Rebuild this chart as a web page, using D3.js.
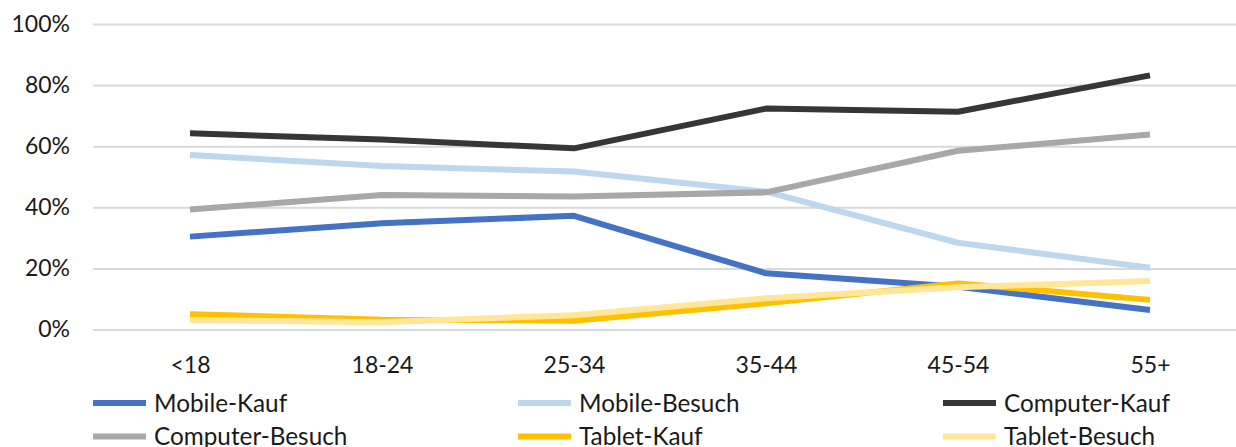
<!DOCTYPE html>
<html>
<head>
<meta charset="utf-8">
<script src="https://cdn.jsdelivr.net/npm/d3@7"></script>
<style>
  body { margin: 0; background: #fff; }
  svg { display: block; }
</style>
</head>
<body>
<svg id="chart" width="1236" height="447"></svg>
<script>
// Data
const ageGroups = ["<18", "18-24", "25-34", "35-44", "45-54", "55+"];
const seriesNames = ["Mobile-Kauf", "Mobile-Besuch", "Computer-Kauf", "Computer-Besuch", "Tablet-Kauf", "Tablet-Besuch"];
const mobileKauf = [0.304, 0.348, 0.372, 0.184, 0.140, 0.064];
const mobileBesuch = [0.571, 0.535, 0.517, 0.451, 0.284, 0.202];
const computerKauf = [0.642, 0.622, 0.593, 0.723, 0.713, 0.832];
const computerBesuch = [0.393, 0.440, 0.435, 0.449, 0.585, 0.638];
const tabletKauf = [0.050, 0.032, 0.029, 0.086, 0.151, 0.097];
const tabletBesuch = [0.031, 0.024, 0.047, 0.102, 0.138, 0.159];
const yTicks = [0, 0.2, 0.4, 0.6, 0.8, 1.0];

const seriesValues = [mobileKauf, mobileBesuch, computerKauf, computerBesuch, tabletKauf, tabletBesuch];
const colors = ["#4472c4", "#bdd7ee", "#363636", "#a9a7a7", "#ffc000", "#ffe699"];

const width = 1236;
const height = 447;
const fontFamily = "Lato, 'Open Sans', sans-serif";
const textColor = "#1a1a1a";
const lineWidth = 6;

const svg = d3.select("#chart");

// Scales
const x = d3.scalePoint()
  .domain(ageGroups)
  .range([94, 1246])
  .padding(0.5);

const y = d3.scaleLinear()
  .domain([0, 1])
  .range([329.5, 24]);

// Y axis with gridlines
const yAxis = svg.append("g")
  .attr("transform", "translate(93,0)")
  .call(d3.axisLeft(y)
    .tickValues(yTicks)
    .tickFormat(d3.format(".0%"))
    .tickSize(-(width - 93))
    .tickPadding(23));

yAxis.select(".domain").remove();
yAxis.selectAll(".tick line")
  .attr("stroke", "#d9d9d9")
  .attr("stroke-width", 2);
yAxis.selectAll(".tick text")
  .attr("fill", textColor)
  .style("font-family", fontFamily)
  .style("font-size", "23px");

// X axis labels
const xAxis = svg.append("g")
  .attr("transform", "translate(0,329.5)")
  .call(d3.axisBottom(x).tickSize(0).tickPadding(27));

xAxis.select(".domain").remove();
xAxis.selectAll(".tick text")
  .attr("fill", textColor)
  .style("font-family", fontFamily)
  .style("font-size", "23px");

// Lines
const line = d3.line()
  .x((d, i) => x(ageGroups[i]))
  .y(d => y(d));

svg.append("g")
  .selectAll("path")
  .data(seriesValues)
  .join("path")
  .attr("d", d => line(d))
  .attr("fill", "none")
  .attr("stroke", (d, i) => colors[i])
  .attr("stroke-width", lineWidth)
  .attr("stroke-linejoin", "round");

// Legend
const legend = svg.append("g")
  .selectAll("g")
  .data(seriesNames)
  .join("g")
  .attr("transform", (d, i) => `translate(${93 + 425 * (i % 3)},${403 + 33.5 * Math.floor(i / 3)})`);

legend.append("line")
  .attr("x1", 0)
  .attr("x2", 53)
  .attr("y1", 0)
  .attr("y2", 0)
  .attr("stroke", (d, i) => colors[i])
  .attr("stroke-width", lineWidth);

legend.append("text")
  .attr("x", 61)
  .attr("y", 0)
  .attr("dy", "0.35em")
  .attr("fill", textColor)
  .style("font-family", fontFamily)
  .style("font-size", "24.3px")
  .text(d => d);
</script>
</body>
</html>
